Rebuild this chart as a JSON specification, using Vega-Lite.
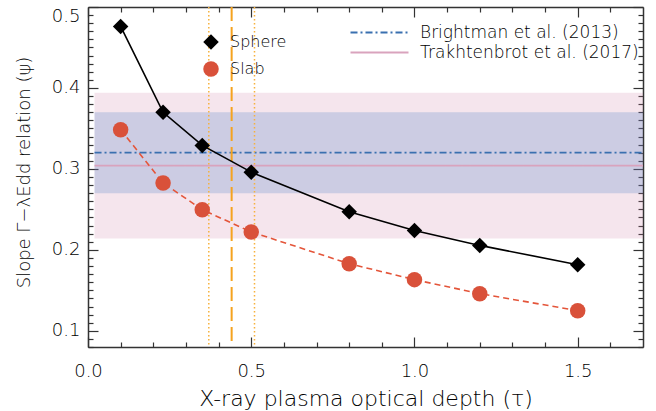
{
  "$schema": "https://vega.github.io/schema/vega-lite/v6.json",
  "width": 555,
  "height": 340,
  "autosize": {"type": "none"},
  "padding": {"left": 88, "top": 7, "right": 13, "bottom": 64},
  "background": "white",
  "config": {
    "view": {"stroke": null},
    "font": "DejaVu Sans",
    "axis": {
      "grid": false,
      "domainColor": "#333333",
      "domainWidth": 1.5,
      "tickColor": "#333333",
      "tickWidth": 1.2,
      "labelColor": "#000000",
      "titleColor": "#000000",
      "labelFontSize": 18,
      "titleFontSize": 22,
      "titleFontWeight": 200,
      "labelFontWeight": 200
    },
    "legend": {"labelFontSize": 16, "labelColor": "#000000", "labelFontWeight": 200}
  },
  "datasets": {
    "models": [
      {"model": "Sphere", "tau": 0.1, "psi": 0.476},
      {"model": "Sphere", "tau": 0.23, "psi": 0.370},
      {"model": "Sphere", "tau": 0.35, "psi": 0.329},
      {"model": "Sphere", "tau": 0.5, "psi": 0.296},
      {"model": "Sphere", "tau": 0.8, "psi": 0.247},
      {"model": "Sphere", "tau": 1.0, "psi": 0.224},
      {"model": "Sphere", "tau": 1.2, "psi": 0.2055},
      {"model": "Sphere", "tau": 1.5, "psi": 0.1817},
      {"model": "Slab", "tau": 0.1, "psi": 0.3484},
      {"model": "Slab", "tau": 0.23, "psi": 0.2826},
      {"model": "Slab", "tau": 0.35, "psi": 0.2496},
      {"model": "Slab", "tau": 0.5, "psi": 0.2221},
      {"model": "Slab", "tau": 0.8, "psi": 0.1829},
      {"model": "Slab", "tau": 1.0, "psi": 0.1632},
      {"model": "Slab", "tau": 1.2, "psi": 0.1459},
      {"model": "Slab", "tau": 1.5, "psi": 0.1249}
    ],
    "refs": [
      {"ref": "Trakhtenbrot et al. (2017)", "lo": 0.214, "hi": 0.394, "mid": 0.304, "x0": 0.02, "x1": 1.7},
      {"ref": "Brightman et al. (2013)", "lo": 0.27, "hi": 0.37, "mid": 0.32, "x0": 0.02, "x1": 1.7}
    ],
    "taus": [
      {"tau": 0.44, "kind": "best"},
      {"tau": 0.37, "kind": "bound"},
      {"tau": 0.51, "kind": "bound"}
    ]
  },
  "resolve": {"axis": {"x": "independent", "y": "independent"}},
  "layer": [
    {
      "data": {"name": "refs"},
      "transform": [{"filter": "datum.ref === 'Trakhtenbrot et al. (2017)'"}],
      "mark": {"type": "rect", "fill": "#cf7fa6", "fillOpacity": 0.2},
      "encoding": {
        "x": {
          "field": "x0", "type": "quantitative",
          "scale": {"domain": [0, 1.7], "nice": false, "zero": false},
          "axis": {
            "orient": "bottom", "values": [0, 0.5, 1, 1.5], "format": ".1f",
            "tickSize": -10, "labelPadding": 25, "labelFlush": false, "domain": true,
            "title": "X-ray plasma optical depth (τ)",
            "titleX": 277.5, "titleY": 51, "titleBaseline": "middle", "titleAlign": "center"
          }
        },
        "x2": {"field": "x1"},
        "y": {
          "field": "lo", "type": "quantitative",
          "scale": {"domain": [0.08, 0.5], "nice": false, "zero": false},
          "axis": {
            "orient": "left", "values": [0.1, 0.2, 0.3, 0.4, 0.5], "format": ".1f",
            "tickSize": -10, "labelPadding": 18, "labelFlush": true, "domain": true,
            "title": "Slope Γ−λEdd relation (ψ)", "titleFontSize": 18,
            "titleX": -64, "titleY": 165, "titleAngle": -90, "titleBaseline": "middle", "titleAlign": "center"
          }
        },
        "y2": {"field": "hi"}
      }
    },
    {
      "data": {"name": "refs"},
      "transform": [{"filter": "datum.ref === 'Brightman et al. (2013)'"}],
      "mark": {"type": "rect", "fill": "#3c78c0", "fillOpacity": 0.22},
      "encoding": {
        "x": {"field": "x0", "type": "quantitative", "scale": {"domain": [0, 1.7], "nice": false, "zero": false}, "axis": null},
        "x2": {"field": "x1"},
        "y": {"field": "lo", "type": "quantitative", "scale": {"domain": [0.08, 0.5], "nice": false, "zero": false}, "axis": null},
        "y2": {"field": "hi"}
      }
    },
    {
      "data": {"name": "refs"},
      "mark": {"type": "rule", "strokeWidth": 1.8},
      "encoding": {
        "x": {
          "field": "x0", "type": "quantitative",
          "scale": {"domain": [0, 1.7], "nice": false, "zero": false},
          "axis": {
            "orient": "bottom", "values": [0.1, 0.2, 0.3, 0.4, 0.6, 0.7, 0.8, 0.9, 1.1, 1.2, 1.3, 1.4, 1.6],
            "tickSize": -5, "labels": false, "domain": false, "title": null
          }
        },
        "x2": {"field": "x1"},
        "y": {
          "field": "mid", "type": "quantitative",
          "scale": {"domain": [0.08, 0.5], "nice": false, "zero": false},
          "axis": {
            "orient": "left",
            "values": [0.08, 0.09, 0.11, 0.12, 0.13, 0.14, 0.15, 0.16, 0.17, 0.18, 0.19, 0.21, 0.22, 0.23, 0.24, 0.25, 0.26, 0.27, 0.28, 0.29, 0.31, 0.32, 0.33, 0.34, 0.35, 0.36, 0.37, 0.38, 0.39, 0.41, 0.42, 0.43, 0.44, 0.45, 0.46, 0.47, 0.48, 0.49],
            "tickSize": -5, "labels": false, "domain": false, "title": null
          }
        },
        "stroke": {
          "field": "ref", "type": "nominal",
          "scale": {"domain": ["Brightman et al. (2013)", "Trakhtenbrot et al. (2017)"], "range": ["#3a70b0", "#d9a3bd"]},
          "legend": {
            "orient": "none", "legendX": 262, "legendY": 17, "title": null, "padding": 0,
            "symbolType": "M-5.8,0H5.8", "symbolSize": 100, "symbolStrokeWidth": 1.8,
            "symbolOffset": 21, "labelOffset": 32, "rowPadding": 2, "labelFontSize": 17, "labelLimit": 300
          }
        },
        "strokeDash": {
          "field": "ref", "type": "nominal",
          "scale": {"domain": ["Brightman et al. (2013)", "Trakhtenbrot et al. (2017)"], "range": [[7, 3, 2, 3], [1, 0]]},
          "legend": {
            "orient": "none", "legendX": 262, "legendY": 17, "title": null, "padding": 0,
            "symbolType": "M-5.8,0H5.8", "symbolSize": 100, "symbolStrokeWidth": 1.8,
            "symbolOffset": 21, "labelOffset": 32, "rowPadding": 2, "labelFontSize": 17, "labelLimit": 300
          }
        }
      }
    },
    {
      "data": {"name": "taus"},
      "transform": [{"filter": "datum.kind === 'best'"}],
      "mark": {"type": "rule", "stroke": "#f5a31f", "strokeWidth": 2, "strokeDash": [14, 6]},
      "encoding": {
        "x": {"field": "tau", "type": "quantitative", "scale": {"domain": [0, 1.7], "nice": false, "zero": false}, "axis": null}
      }
    },
    {
      "data": {"name": "taus"},
      "transform": [{"filter": "datum.kind === 'bound'"}],
      "mark": {"type": "rule", "stroke": "#f7b13c", "strokeWidth": 1.5, "strokeDash": [1.5, 2.5]},
      "encoding": {
        "x": {"field": "tau", "type": "quantitative", "scale": {"domain": [0, 1.7], "nice": false, "zero": false}, "axis": null}
      }
    },
    {
      "data": {"name": "models"},
      "transform": [{"filter": "datum.model === 'Sphere'"}],
      "mark": {"type": "line", "stroke": "#000000", "strokeWidth": 1.6},
      "encoding": {
        "x": {
          "field": "tau", "type": "quantitative",
          "scale": {"domain": [0, 1.7], "nice": false, "zero": false},
          "axis": {"orient": "top", "values": [0, 0.5, 1, 1.5], "tickSize": -10, "labels": false, "domain": true, "title": null}
        },
        "y": {
          "field": "psi", "type": "quantitative",
          "scale": {"domain": [0.08, 0.5], "nice": false, "zero": false},
          "axis": {"orient": "right", "values": [0.1, 0.2, 0.3, 0.4, 0.5], "tickSize": -10, "labels": false, "domain": true, "title": null}
        }
      }
    },
    {
      "data": {"name": "models"},
      "transform": [{"filter": "datum.model === 'Slab'"}],
      "mark": {"type": "line", "stroke": "#e4553a", "strokeWidth": 1.6, "strokeDash": [6, 4]},
      "encoding": {
        "x": {
          "field": "tau", "type": "quantitative",
          "scale": {"domain": [0, 1.7], "nice": false, "zero": false},
          "axis": {"orient": "top", "values": [0.1, 0.2, 0.3, 0.4, 0.6, 0.7, 0.8, 0.9, 1.1, 1.2, 1.3, 1.4, 1.6], "tickSize": -5, "labels": false, "domain": false, "title": null}
        },
        "y": {
          "field": "psi", "type": "quantitative",
          "scale": {"domain": [0.08, 0.5], "nice": false, "zero": false},
          "axis": {
            "orient": "right",
            "values": [0.08, 0.09, 0.11, 0.12, 0.13, 0.14, 0.15, 0.16, 0.17, 0.18, 0.19, 0.21, 0.22, 0.23, 0.24, 0.25, 0.26, 0.27, 0.28, 0.29, 0.31, 0.32, 0.33, 0.34, 0.35, 0.36, 0.37, 0.38, 0.39, 0.41, 0.42, 0.43, 0.44, 0.45, 0.46, 0.47, 0.48, 0.49],
            "tickSize": -5, "labels": false, "domain": false, "title": null
          }
        }
      }
    },
    {
      "data": {"name": "models"},
      "mark": {"type": "point", "filled": true, "opacity": 1, "size": 240, "strokeWidth": 0},
      "encoding": {
        "x": {"field": "tau", "type": "quantitative", "scale": {"domain": [0, 1.7], "nice": false, "zero": false}, "axis": null},
        "y": {"field": "psi", "type": "quantitative", "scale": {"domain": [0.08, 0.5], "nice": false, "zero": false}, "axis": null},
        "color": {
          "field": "model", "type": "nominal",
          "scale": {"domain": ["Sphere", "Slab"], "range": ["#000000", "#d9513a"]},
          "legend": {
            "orient": "none", "legendX": 115, "legendY": 27, "title": null, "padding": 0,
            "symbolSize": 240, "symbolStrokeWidth": 0, "symbolOffset": 0,
            "labelOffset": 11, "rowPadding": 11, "labelFontSize": 16
          }
        },
        "shape": {
          "field": "model", "type": "nominal",
          "scale": {"domain": ["Sphere", "Slab"], "range": ["diamond", "circle"]},
          "legend": {
            "orient": "none", "legendX": 115, "legendY": 27, "title": null, "padding": 0,
            "symbolSize": 240, "symbolStrokeWidth": 0, "symbolOffset": 0,
            "labelOffset": 11, "rowPadding": 11, "labelFontSize": 16
          }
        }
      }
    }
  ]
}
